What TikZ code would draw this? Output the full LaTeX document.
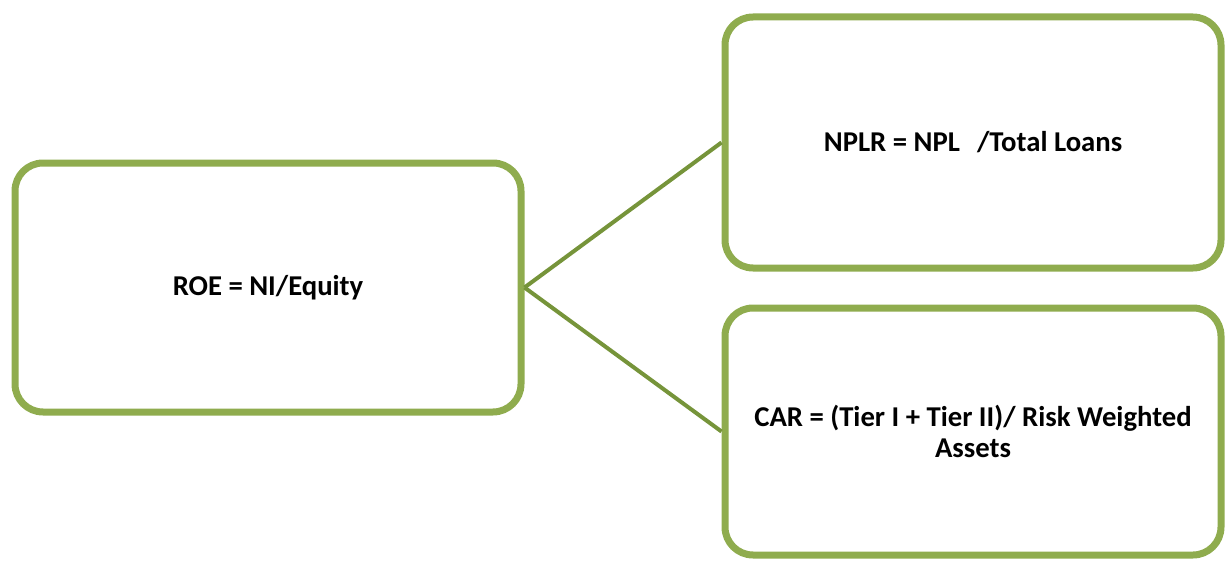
\documentclass[tikz,border=0pt]{standalone}
\usepackage{fontspec}
\setmainfont{Carlito}
\usepackage{tikz}
\usetikzlibrary{positioning}
\definecolor{boxgreen}{RGB}{143,172,78}
\definecolor{linegreen}{RGB}{118,148,58}

\begin{document}
\begin{tikzpicture}[x=0.03cm,y=-0.03cm,
      font=\bfseries\fontsize{24.5}{26.5}\selectfont,
      s/.style={draw=boxgreen,line width=7*0.03cm,rounded corners=28*0.03cm,fill=white,align=center},
      a/.style={draw=linegreen,line width=4*0.03cm}]
      \useasboundingbox (0,0) rectangle (1225,562);
      \node[s,minimum width=506*0.03cm,minimum height=249*0.03cm] (roe) at (268,287.5) {ROE = NI/Equity};
      \node[s,minimum width=496*0.03cm,minimum height=251*0.03cm] (nplr) at (973,142.5) {NPLR = NPL\hspace{0.6em}/Total Loans};
      \node[s,minimum width=496*0.03cm,minimum height=247*0.03cm] (car) at (973,431.5) {CAR = (Tier I + Tier II)/ Risk Weighted\\Assets};
      \draw[a] (roe.east)--(nplr.west);
      \draw[a] (roe.east)--(car.west);
    \end{tikzpicture}
\end{document}
